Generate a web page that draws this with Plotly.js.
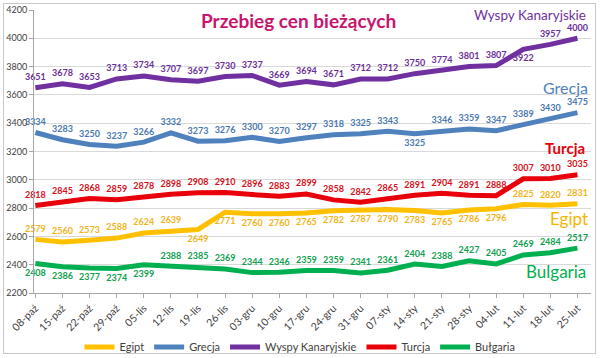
<!DOCTYPE html>
<html><head><meta charset="utf-8">
<script src="https://cdn.plot.ly/plotly-3.0.1.min.js"></script>
<style>
html,body{margin:0;padding:0;background:#fff;}
#wrap{position:relative;width:600px;height:358px;}
#chart{width:600px;height:358px;}
#frame{position:absolute;left:3px;top:3px;width:593px;height:351px;border:1px solid #C8C8C8;pointer-events:none;box-sizing:border-box;}
</style></head>
<body>
<div id="wrap"><div id="chart"></div><div id="frame"></div></div>
<script>
const dates = ["08-paź","15-paź","22-paź","29-paź","05-lis","12-lis","19-lis","26-lis","03-gru","10-gru","17-gru","24-gru","31-gru","07-sty","14-sty","21-sty","28-sty","04-lut","11-lut","18-lut","25-lut"];
const egipt = [2579,2560,2573,2588,2624,2639,2649,2771,2760,2760,2765,2782,2787,2790,2783,2765,2786,2796,2825,2820,2831];
const grecja = [3334,3283,3250,3237,3266,3332,3273,3276,3300,3270,3297,3318,3325,3343,3325,3346,3359,3347,3389,3430,3475];
const wyspy = [3651,3678,3653,3713,3734,3707,3697,3730,3737,3669,3694,3671,3712,3712,3750,3774,3801,3807,3922,3957,4000];
const turcja = [2818,2845,2868,2859,2878,2898,2908,2910,2896,2883,2899,2858,2842,2865,2891,2904,2891,2888,3007,3010,3035];
const bulgaria = [2408,2386,2377,2374,2399,2388,2385,2369,2344,2346,2359,2359,2341,2361,2404,2388,2427,2405,2469,2484,2517];
const seriesNames = ["Egipt","Grecja","Wyspy Kanaryjskie","Turcja","Bułgaria"];
const yTicks = [2200,2400,2600,2800,3000,3200,3400,3600,3800,4000,4200];

const T = "top center", B = "bottom center";
const posEgipt = [T,T,T,T,T,T,B,B,B,B,B,B,B,B,B,B,B,B,T,T,T];
const posGrecja = dates.map((d,i)=> i===14 ? B : T);
const posWyspy = dates.map((d,i)=> i===18 ? B : T);
const posTurcja = dates.map(()=>T);
const posBulg = dates.map((d,i)=> i<=4 ? B : T);

const x = dates.map((d,i)=>i);
function tr(name, y, color, lcolor, pos){
  return {x:x, y:y, name:name, type:"scatter", mode:"lines+markers+text",
    line:{color:color,width:5},
    marker:{size:7, color:"rgba(0,0,0,0)", line:{width:0}},
    text:y.map(String), textposition:pos,
    textfont:{family:"Lato, sans-serif", size:9, color:lcolor, weight:"bold"},
    cliponaxis:false, hoverinfo:"skip"};
}
const data = [
  tr(seriesNames[0], egipt, "#FFC000", "#F2B318", posEgipt),
  tr(seriesNames[1], grecja, "#4F81BD", "#4A78B0", posGrecja),
  tr(seriesNames[2], wyspy, "#7030A0", "#6A3098", posWyspy),
  tr(seriesNames[3], turcja, "#E8000B", "#D8101A", posTurcja),
  tr(seriesNames[4], bulgaria, "#00B050", "#10A050", posBulg)
];

const layout = {
  width:600, height:358,
  margin:{l:34, r:9, t:10, b:65},
  paper_bgcolor:"#fff", plot_bgcolor:"#fff",
  showlegend:true,
  legend:{orientation:"h", x:0.5, xanchor:"center", xref:"container", yref:"container", y:(358-347)/358, yanchor:"middle",
    font:{family:"Lato, sans-serif", size:11, color:"#404040"}, itemwidth:30, traceorder:"normal", tracegroupgap:0},
  xaxis:{range:[-0.05,20.5], tickmode:"array", tickvals:x, ticktext:dates, tickangle:-45,
    showgrid:false, zeroline:false, showline:true, linecolor:"#A6A6A6", linewidth:1,
    ticks:"outside", ticklen:4, tickcolor:"#A6A6A6", automargin:false,
    tickfont:{family:"Lato, sans-serif", size:10.5, color:"#404040"}},
  yaxis:{range:[2200,4200], tickmode:"array", tickvals:yTicks, ticktext:yTicks.map(String),
    showgrid:true, gridcolor:"#D9D9D9", gridwidth:1, zeroline:false, automargin:false,
    showline:true, linecolor:"#A6A6A6", linewidth:1, ticks:"outside", ticklen:4, tickcolor:"#A6A6A6",
    tickfont:{family:"Lato, sans-serif", size:9, color:"#404040"}},
  annotations:[
    {text:"<b>Przebieg cen bieżących</b>", xref:"paper", yref:"paper", x:(298-34)/557, y:1-(20-10)/283, xanchor:"center", yanchor:"middle", showarrow:false, font:{family:"Lato, sans-serif", size:19, color:"#C8146E"}},
    {text:"Wyspy Kanaryjskie", xref:"paper", yref:"paper", x:(588-34)/557, y:1-(14.5-10)/283, xanchor:"right", yanchor:"middle", showarrow:false, font:{family:"Lato, sans-serif", size:13.5, color:"#7030A0"}},
    {text:"Grecja", xref:"paper", yref:"paper", x:(590-34)/557, y:1-(88-10)/283, xanchor:"right", yanchor:"middle", showarrow:false, font:{family:"Lato, sans-serif", size:16, color:"#4F81BD"}},
    {text:"<b>Turcja</b>", xref:"paper", yref:"paper", x:(587-34)/557, y:1-(148-10)/283, xanchor:"right", yanchor:"middle", showarrow:false, font:{family:"Lato, sans-serif", size:15, color:"#E8000B"}},
    {text:"Egipt", xref:"paper", yref:"paper", x:(590-34)/557, y:1-(218-10)/283, xanchor:"right", yanchor:"middle", showarrow:false, font:{family:"Lato, sans-serif", size:17, color:"#F5B400"}},
    {text:"Bulgaria", xref:"paper", yref:"paper", x:(588-34)/557, y:1-(271-10)/283, xanchor:"right", yanchor:"middle", showarrow:false, font:{family:"Lato, sans-serif", size:17, color:"#00B050"}}
  ]
};
Plotly.newPlot("chart", data, layout, {displayModeBar:false, staticPlot:true});
</script>
</body></html>
